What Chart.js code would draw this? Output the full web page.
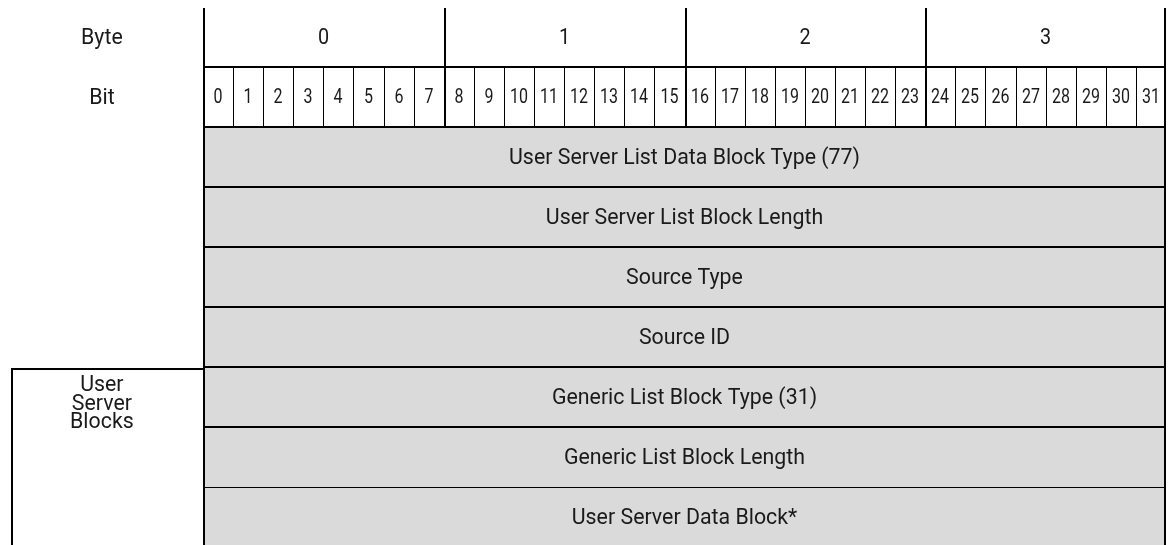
<!DOCTYPE html>
<html>
<head>
<meta charset="utf-8">
<script src="https://cdn.jsdelivr.net/npm/chart.js@4.4.1/dist/chart.umd.min.js"></script>
<style>
  html, body { margin: 0; padding: 0; background: #fff; overflow: hidden; }
  #frame { width: 1168px; height: 545px; overflow: hidden; }
</style>
</head>
<body>
<div id="frame"><canvas id="packet-chart" width="1168" height="560"></canvas></div>
<script>
// Header labels
const byteLabels = ['0', '1', '2', '3'];
const bitLabels = ['0', '1', '2', '3', '4', '5', '6', '7', '8', '9', '10', '11', '12', '13', '14', '15',
  '16', '17', '18', '19', '20', '21', '22', '23', '24', '25', '26', '27', '28', '29', '30', '31'];
const headerRows = ['Byte', 'Bit'];

// Fields, top to bottom, each one spans the full 32 bits
const fieldNames = [
  'User Server List Data Block Type (77)',
  'User Server List Block Length',
  'Source Type',
  'Source ID',
  'Generic List Block Type (31)',
  'Generic List Block Length',
  'User Server Data Block*'
];

// Rows that sit inside the left-hand box
const groupRows = ['Generic List Block Type (31)', 'Generic List Block Length', 'User Server Data Block*'];
const groupLabel = ['User', 'Server', 'Blocks'];

// Look
const fontFamily = "Roboto, 'Liberation Sans', sans-serif";
const fieldColor = '#dadada';
const lineColor = '#000000';
const textColor = '#1a1a1a';
const labelX = -3.36;     // centre of the left label column, in bits
const groupLeft = -6.38;  // left edge of the group box, in bits

// condensed text: squeeze horizontally around the centre
function condensedText(ctx, text, x, y, squeeze) {
  ctx.save();
  ctx.translate(x, y);
  ctx.scale(squeeze, 1);
  ctx.fillText(text, 0, 0);
  ctx.restore();
}

// Snap bar edges to whole pixels so the 1px rules stay crisp
const snapBars = {
  id: 'snapBars',
  beforeDatasetsDraw(chart) {
    chart.data.datasets.forEach(function (ds, i) {
      chart.getDatasetMeta(i).data.forEach(function (bar) {
        bar.x = Math.round(bar.x);
        bar.base = Math.round(bar.base);
      });
    });
  }
};

// Draws the text of each cell at its bar centre
const cellText = {
  id: 'cellText',
  afterDatasetsDraw(chart) {
    const ctx = chart.ctx;
    const xs = chart.scales.x;
    const ys = chart.scales.y;
    ctx.save();
    ctx.fillStyle = textColor;
    ctx.textAlign = 'center';
    ctx.textBaseline = 'alphabetic';

    chart.data.datasets.forEach(function (ds, i) {
      if (!ds.texts) return;
      ctx.font = ds.textFont;
      chart.getDatasetMeta(i).data.forEach(function (bar, j) {
        condensedText(ctx, ds.texts[j], (bar.x + bar.base) / 2, bar.y + ds.textShift, ds.squeeze);
      });
    });

    // left column labels
    ctx.font = '22px ' + fontFamily;
    headerRows.forEach(function (name) {
      condensedText(ctx, name, xs.getPixelForValue(labelX), ys.getPixelForValue(name) + 6, 0.97);
    });
    const gy = ys.getPixelForValue(groupRows[0]);
    groupLabel.forEach(function (line, k) {
      condensedText(ctx, line, xs.getPixelForValue(labelX), gy - 7 + k * 18.5, 0.97);
    });
    ctx.restore();
  }
};

var ctx = document.getElementById('packet-chart').getContext('2d');

var myChart = new Chart(ctx, {
  type: 'bar',
  data: {
    labels: headerRows.concat(fieldNames),
    datasets: [
      {
        // byte header cells
        data: byteLabels.map(function (b) { return { y: 'Byte', x: [b * 8, b * 8 + 8] }; }),
        backgroundColor: '#ffffff',
        borderColor: lineColor,
        borderWidth: function (c) {
          return { top: 0, left: 2, bottom: 2, right: c.dataIndex === byteLabels.length - 1 ? 2 : 0 };
        },
        texts: byteLabels,
        textFont: '22px ' + fontFamily,
        textShift: 6,
        squeeze: 0.9
      },
      {
        // bit header cells
        data: bitLabels.map(function (b) { return { y: 'Bit', x: [Number(b), Number(b) + 1] }; }),
        backgroundColor: '#ffffff',
        borderColor: lineColor,
        borderWidth: function (c) {
          return {
            top: 0,
            left: c.dataIndex % 8 === 0 ? 2 : 1,
            bottom: 2,
            right: c.dataIndex === bitLabels.length - 1 ? 2 : 0
          };
        },
        texts: bitLabels,
        textFont: '20px ' + fontFamily,
        textShift: 5,
        squeeze: 0.8
      },
      {
        // message fields
        data: fieldNames.map(function (f) { return { y: f, x: [0, 32] }; }),
        backgroundColor: fieldColor,
        borderColor: lineColor,
        borderWidth: function (c) {
          var b = 2;
          if (c.dataIndex === fieldNames.length - 2) b = 1;
          if (c.dataIndex === fieldNames.length - 1) b = 0;
          return { top: 0, left: 2, bottom: b, right: 2 };
        },
        texts: fieldNames,
        textFont: '22px ' + fontFamily,
        textShift: 6,
        squeeze: 0.97
      },
      {
        // left box around the user server blocks
        data: groupRows.map(function (f) { return { y: f, x: [groupLeft, 0] }; }),
        backgroundColor: '#ffffff',
        borderColor: lineColor,
        borderWidth: function (c) {
          return { top: c.dataIndex === 0 ? 2 : 0, left: 2, bottom: 0, right: 0 };
        }
      }
    ]
  },
  options: {
    indexAxis: 'y',
    responsive: false,
    animation: false,
    devicePixelRatio: 1,
    grouped: false,
    barPercentage: 1,
    categoryPercentage: 1,
    borderSkipped: false,
    inflateAmount: 0,
    layout: { padding: { top: 8, bottom: 12, left: 0, right: 2 } },
    plugins: {
      legend: { display: false },
      tooltip: { enabled: false }
    },
    scales: {
      x: { type: 'linear', min: -6.746, max: 32, display: false },
      y: { type: 'category', display: false }
    }
  },
  plugins: [snapBars, cellText]
});
</script>
</body>
</html>
